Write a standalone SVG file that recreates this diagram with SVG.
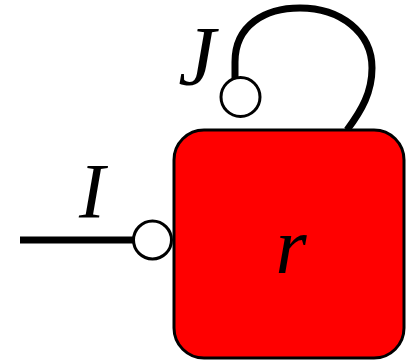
<svg xmlns="http://www.w3.org/2000/svg" width="414" height="363" viewBox="0 0 414 363">
<style>
.lbl{font-family:"Liberation Serif",serif;font-style:italic;fill:#000;text-anchor:middle}
.wire{fill:none;stroke:#000;stroke-width:7;stroke-linecap:butt}
.port{fill:#fff;stroke:#000;stroke-width:3}
</style>
<g id="connectors">
<path class="wire" d="M20 240 L133 240"/>
<path class="wire" d="M235 78 L235 62 C235 25 265 8 300 8 C340 8 372 32 372 68 C372 92 362 110 347 130"/>
</g>
<g id="node-r">
<rect x="174" y="130" width="230" height="228" rx="30" ry="30" fill="#ff0000" stroke="#000" stroke-width="3"/>
<text class="lbl" x="291" y="273" font-size="80">r</text>
</g>
<g id="port-I">
<circle class="port" cx="152.5" cy="240" r="19"/>
<text class="lbl" x="92" y="217" font-size="78">I</text>
</g>
<g id="port-J">
<circle class="port" cx="240.5" cy="97" r="19.5"/>
<text class="lbl" x="197" y="85" font-size="84">J</text>
</g>
</svg>
